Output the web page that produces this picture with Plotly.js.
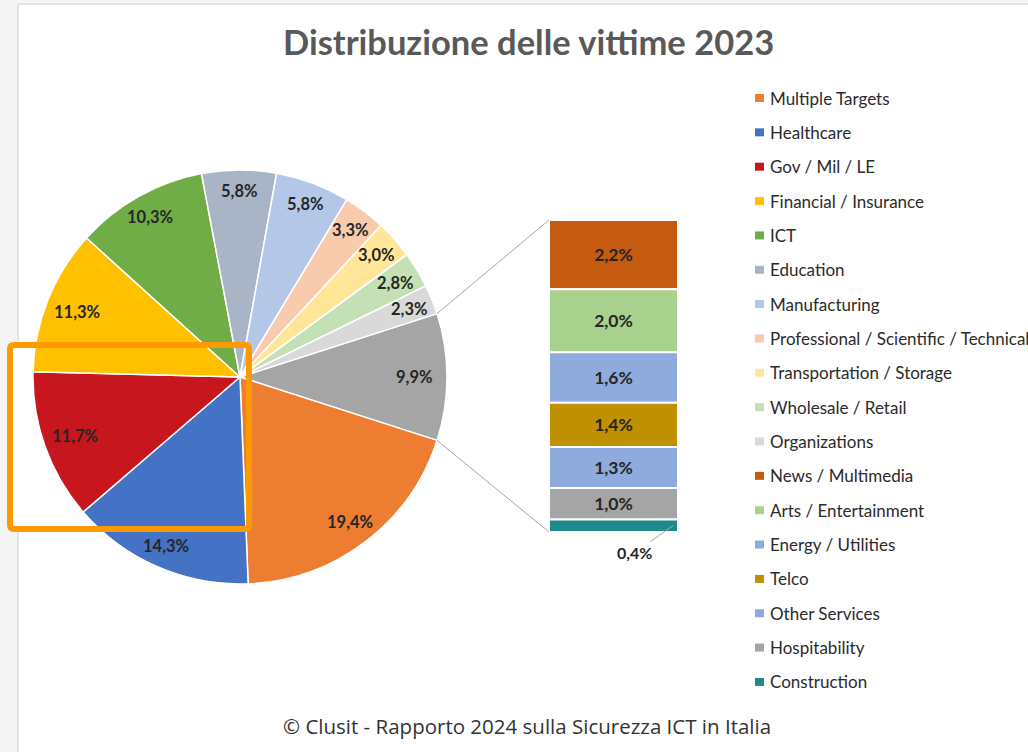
<!DOCTYPE html>
<html><head><meta charset="utf-8">
<script src="https://cdn.plot.ly/plotly-3.0.1.min.js"></script>
<style>html,body{margin:0;padding:0;background:#f2f2f2}#chart{width:1028px;height:752px}</style>
</head><body><div id="chart"></div>
<script>
// ---- data ----
const pieLabels = ['Multiple Targets','Healthcare','Gov / Mil / LE','Financial / Insurance','ICT','Education','Manufacturing','Professional / Scientific / Technical','Transportation / Storage','Wholesale / Retail','Organizations'];
const pieValues = [19.4,14.3,11.7,11.3,10.3,5.8,5.8,3.3,3.0,2.8,2.3];
const pieColors = ['#ED7D31','#4472C4','#C8161E','#FFC000','#70AD47','#A9B4C6','#B4C7E7','#F8CBAD','#FFE699','#C5E0B4','#D9D9D9'];
const barLabels = ['News / Multimedia','Arts / Entertainment','Energy / Utilities','Telco','Other Services','Hospitability','Construction'];
const barValues = [2.2,2.0,1.6,1.4,1.3,1.0,0.4];
const barColors = ['#C55A11','#A9D18E','#8FAADC','#BF9000','#8FAADC','#A5A5A5','#1F8A8C'];
const otherLabel = 'Altro';
const otherColor = '#A5A5A5';
const titleText = 'Distribuzione delle vittime 2023';
const footerText = '© Clusit - Rapporto 2024 sulla Sicurezza ICT in Italia';

// ---- geometry (pixels) ----
const W = 1028, H = 752;
const CX = 240, CY = 377, R = 207;
const BAR_L = 549, BAR_R = 678, BAR_T = 220, BAR_B = 532;
const LEG_X = 755, LEG_Y0 = 98, LEG_STEP = 34.35;
const px = x => x / W, py = y => 1 - y / H;
const fmt = v => v.toFixed(1).replace('.', ',') + '%';
const FONT = 'Lato, "Open Sans", sans-serif';

const otherTotal = barValues.reduce((a, b) => a + b, 0);
const allPieValues = [otherTotal].concat(pieValues);
const allPieLabels = [otherLabel].concat(pieLabels);
const allPieColors = [otherColor].concat(pieColors);
const total = allPieValues.reduce((a, b) => a + b, 0);
const rotation = 90 - (otherTotal / total) * 180;

const pie = {
  type: 'pie', labels: allPieLabels, values: allPieValues, sort: false,
  direction: 'clockwise', rotation: rotation, textinfo: 'none', hoverinfo: 'label+percent',
  marker: {colors: allPieColors, line: {color: '#ffffff', width: 1.5}},
  domain: {x: [px(CX - R), px(CX + R)], y: [py(CY + R), py(CY - R)]},
  showlegend: false
};

// stacked bar (top-to-bottom order in arrays)
const bases = barValues.map((v, i) => barValues.slice(i + 1).reduce((a, b) => a + b, 0));
const bar = {
  type: 'bar', x: barValues.map(() => 0), y: barValues, base: bases, width: 1,
  marker: {color: barColors, line: {color: '#ffffff', width: 2}},
  text: barValues.map(v => v >= 0.5 ? fmt(v) : ''), textposition: 'inside',
  insidetextanchor: 'middle', textangle: 0, constraintext: 'none',
  textfont: {family: FONT, size: 17.5, color: '#262626', weight: 700},
  hovertext: barLabels, hoverinfo: 'text+y', showlegend: false
};

const annotations = [];
const shapes = [];

// card background
shapes.push({type: 'rect', xref: 'paper', yref: 'paper', layer: 'below',
  x0: px(17), x1: 1.05, y0: -0.05, y1: py(3), fillcolor: '#e4e4e4', line: {width: 0}});
shapes.push({type: 'rect', xref: 'paper', yref: 'paper', layer: 'below',
  x0: px(19), x1: 1.05, y0: -0.05, y1: py(5), fillcolor: '#ffffff', line: {width: 0}});
// highlight box interior
shapes.push({type: 'rect', xref: 'paper', yref: 'paper', layer: 'below',
  x0: px(10), x1: px(249), y0: py(529), y1: py(345), fillcolor: '#ffffff', line: {width: 0}});

// pie labels
let ang = rotation;
allPieValues.forEach((v, i) => {
  const span = v / total * 360;
  const mid = (ang + span / 2) * Math.PI / 180;
  const s = Math.sin(mid), c = Math.cos(mid);
  const d = 0.9 * R - 12 * s * s * Math.min(1, v / 6);
  annotations.push({xref: 'paper', yref: 'paper', x: px(CX + d * s), y: py(CY - d * c),
    text: fmt(v), showarrow: false, xanchor: 'center', yanchor: 'middle',
    font: {family: FONT, size: 16.5, color: '#262626', weight: 700}});
  ang += span;
});

// connector lines from the "other" slice to the bar
const a1 = rotation * Math.PI / 180;
const a2 = (rotation + otherTotal / total * 360) * Math.PI / 180;
shapes.push({type: 'line', xref: 'paper', yref: 'paper',
  x0: px(CX + R * Math.sin(a1)), y0: py(CY - R * Math.cos(a1)), x1: px(BAR_L), y1: py(BAR_T),
  line: {color: '#A6A6A6', width: 1}});
shapes.push({type: 'line', xref: 'paper', yref: 'paper',
  x0: px(CX + R * Math.sin(a2)), y0: py(CY - R * Math.cos(a2)), x1: px(BAR_L), y1: py(BAR_B),
  line: {color: '#A6A6A6', width: 1}});

// outside label for the small bar segment
barValues.forEach((v, i) => {
  if (v < 0.5) {
    annotations.push({xref: 'x', yref: 'y', x: 0.46, y: bases[i] + v / 2,
      text: fmt(v), showarrow: true, arrowhead: 0, arrowwidth: 1, arrowcolor: '#A6A6A6',
      ax: -38, ay: 27, standoff: 0,
      font: {family: FONT, size: 16, color: '#262626', weight: 700}});
  }
});

// legend
const legLabels = pieLabels.concat(barLabels);
const legColors = pieColors.concat(barColors);
legLabels.forEach((lab, i) => {
  const y = LEG_Y0 + i * LEG_STEP;
  shapes.push({type: 'rect', xref: 'paper', yref: 'paper',
    x0: px(LEG_X), x1: px(LEG_X + 9), y0: py(y + 4), y1: py(y - 4),
    fillcolor: legColors[i], line: {width: 0}});
  annotations.push({xref: 'paper', yref: 'paper', x: px(LEG_X + 13), y: py(y),
    xanchor: 'left', yanchor: 'middle', showarrow: false, text: lab,
    font: {family: FONT, size: 17, color: '#2b2b2b'}});
});

// title and footer
annotations.push({xref: 'paper', yref: 'paper', x: px(528), y: py(41), xanchor: 'center', yanchor: 'middle',
  showarrow: false, text: titleText, font: {family: FONT, size: 34.5, color: '#595959', weight: 700}});
annotations.push({xref: 'paper', yref: 'paper', x: px(527), y: py(726), xanchor: 'center', yanchor: 'middle',
  showarrow: false, text: footerText, font: {family: '"Open Sans", sans-serif', size: 20.5, color: '#333333'}});

// orange highlight frame
const fx0 = 10, fx1 = 249, fy0 = 345, fy1 = 529, rr = 4;
const P = (x, y) => px(x) + ',' + py(y);
shapes.push({type: 'path', xref: 'paper', yref: 'paper', layer: 'above',
  path: 'M' + P(fx0 + rr, fy0) + ' L' + P(fx1 - rr, fy0) + ' Q' + P(fx1, fy0) + ' ' + P(fx1, fy0 + rr) +
        ' L' + P(fx1, fy1 - rr) + ' Q' + P(fx1, fy1) + ' ' + P(fx1 - rr, fy1) +
        ' L' + P(fx0 + rr, fy1) + ' Q' + P(fx0, fy1) + ' ' + P(fx0, fy1 - rr) +
        ' L' + P(fx0, fy0 + rr) + ' Q' + P(fx0, fy0) + ' ' + P(fx0 + rr, fy0) + ' Z',
  line: {color: '#FF9900', width: 6}});

const layout = {
  width: W, height: H, margin: {l: 0, r: 0, t: 0, b: 0},
  paper_bgcolor: '#f4f4f4', plot_bgcolor: 'rgba(0,0,0,0)',
  showlegend: false, barmode: 'overlay',
  xaxis: {domain: [px(BAR_L), px(BAR_R)], range: [-0.5, 0.5], visible: false, fixedrange: true},
  yaxis: {domain: [py(BAR_B), py(BAR_T)], range: [0, otherTotal], visible: false, fixedrange: true},
  shapes: shapes, annotations: annotations,
  font: {family: FONT}
};
Plotly.newPlot('chart', [pie, bar], layout, {displayModeBar: false, staticPlot: true});
</script>
</body></html>
